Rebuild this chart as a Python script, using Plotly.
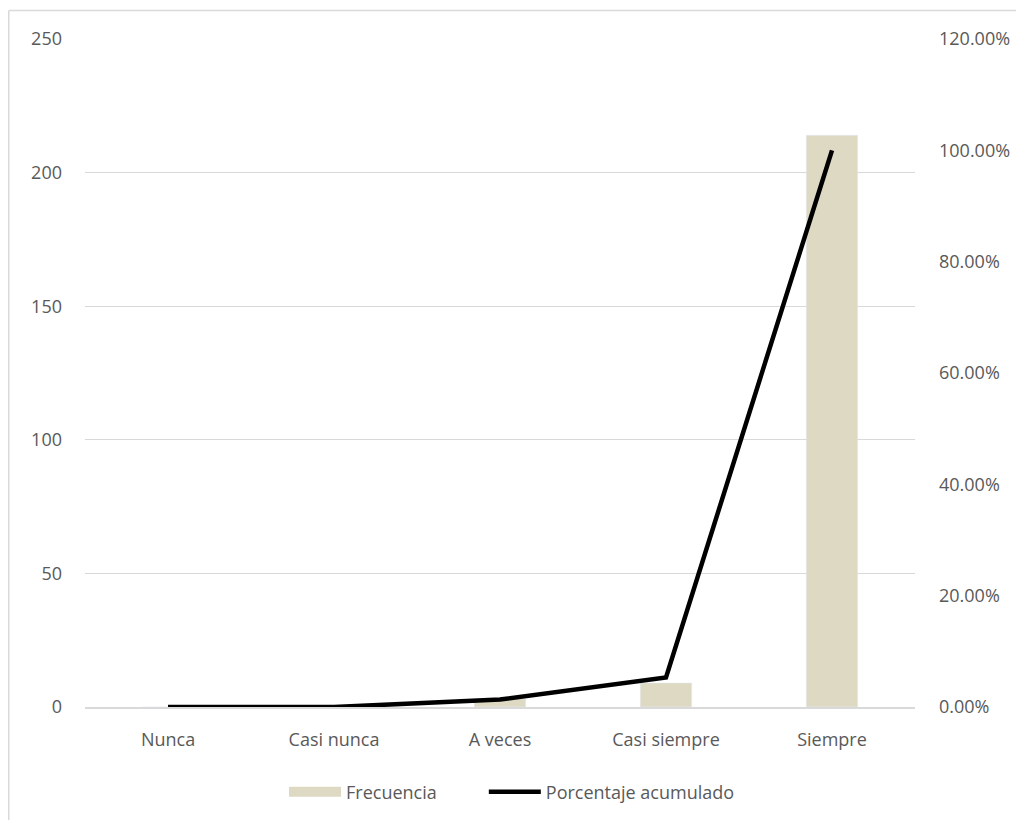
import plotly.graph_objects as go

categories = ["Nunca", "Casi nunca", "A veces", "Casi siempre", "Siempre"]
frecuencia = [0, 0, 3, 9, 214]
porcentaje_acumulado = [0.0, 0.0, 0.0133, 0.0531, 1.0]
left_ticks = [0, 50, 100, 150, 200, 250]
right_ticks = [0, 0.2, 0.4, 0.6, 0.8, 1.0, 1.2]

FONT = "Open Sans"
TXT = "#595959"
FS = 18
BAR_COLOR = "#ddd9c3"

# page has an 8px body offset; figure coords = page coords - 8
W, H = 1012, 812
L, R, T, B = 77, 105, 31, 113
pw = W - L - R
ph = H - T - B

fig = go.Figure()
fig.add_trace(go.Bar(x=categories, y=frecuencia, name="Frecuencia",
                     marker_color=BAR_COLOR, width=0.31, yaxis="y", showlegend=False))
# legend swatch for the bars (wide rectangle like the original)
fig.add_trace(go.Scatter(x=[None], y=[None], name="Frecuencia" + "\u00a0" * 9, mode="lines",
                         line=dict(color=BAR_COLOR, width=10), yaxis="y"))
fig.add_trace(go.Scatter(x=categories, y=porcentaje_acumulado, name="Porcentaje acumulado",
                         mode="lines", line=dict(color="black", width=4.5), yaxis="y2"))

fig.update_layout(
    width=W, height=H,
    margin=dict(l=L, r=R, t=T, b=B, autoexpand=False),
    paper_bgcolor="white", plot_bgcolor="white",
    font=dict(family=FONT, size=FS, color=TXT),
    showlegend=True,
    legend=dict(orientation="h", x=(284 - 8 - L) / pw, xanchor="left",
                y=(699 - 784) / ph, yanchor="middle",
                itemwidth=52,
                font=dict(family=FONT, size=FS, color=TXT), traceorder="normal"),
    xaxis=dict(showgrid=False, showline=True, linecolor="#d9d9d9", linewidth=1.5,
               ticks="", ticklabelstandoff=16, tickfont=dict(size=FS, color=TXT),
               automargin=False),
    yaxis=dict(range=[0, 250], tickvals=left_ticks, showgrid=True, gridcolor="#d9d9d9",
               gridwidth=1, zeroline=False, showline=False, ticks="",
               ticklabelstandoff=22, tickfont=dict(size=FS, color=TXT), automargin=False),
    yaxis2=dict(range=[0, 1.2], tickvals=right_ticks, tickformat=".2%", overlaying="y",
                side="right", showgrid=False, zeroline=False, showline=False, ticks="",
                ticklabelstandoff=23, tickfont=dict(size=FS, color=TXT), automargin=False),
)
y_top = (H - B - 2.5) / ph
x_left = (0.75 - L) / pw
fig.add_shape(type="line", xref="paper", yref="paper",
              x0=x_left, x1=(W - L) / pw, y0=y_top, y1=y_top,
              line=dict(color="#d9d9d9", width=1.5))
fig.add_shape(type="line", xref="paper", yref="paper",
              x0=x_left, x1=x_left, y0=y_top, y1=-B / ph,
              line=dict(color="#d9d9d9", width=1.5))

fig.write_html("out.html")
